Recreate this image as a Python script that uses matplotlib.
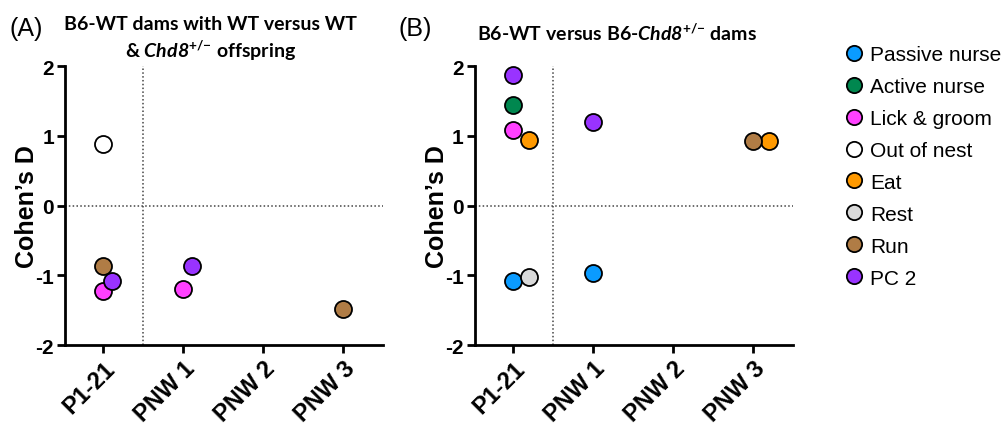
import numpy as np
import matplotlib; matplotlib.use("Agg")
import matplotlib.pyplot as plt
from matplotlib.lines import Line2D

plt.rcParams["font.family"] = "Liberation Sans"
plt.rcParams["mathtext.fontset"] = "custom"
plt.rcParams["mathtext.rm"] = "Lato:bold"
plt.rcParams["mathtext.sf"] = "Lato:italic:bold"
plt.rcParams["mathtext.bf"] = "Lato:bold"

# ---- data -----------------------------------------------------------------
periods = ["P1-21", "PNW 1", "PNW 2", "PNW 3"]
behaviours = ["Passive nurse", "Active nurse", "Lick & groom", "Out of nest",
              "Eat", "Rest", "Run", "PC 2"]
colors = ["#0A9BFF", "#00874F", "#FF40FF", "#FFFFFF",
          "#FF9900", "#D9D9D9", "#B07C45", "#9933FF"]

nan = np.nan
# Panel A: Cohen's D per period (P1-21, PNW1, PNW2, PNW3)
a_passive = [nan, nan, nan, nan]
a_active  = [nan, nan, nan, nan]
a_lick    = [-1.22, -1.20, nan, nan]
a_outnest = [0.88, nan, nan, nan]
a_eat     = [nan, nan, nan, nan]
a_rest    = [nan, nan, nan, nan]
a_run     = [-0.86, nan, nan, -1.48]
a_pc2     = [-1.08, -0.87, nan, nan]

# Panel B
b_passive = [-1.08, -0.96, nan, nan]
b_active  = [1.45, nan, nan, nan]
b_lick    = [1.09, nan, nan, nan]
b_outnest = [nan, nan, nan, nan]
b_eat     = [0.94, nan, nan, 0.93]
b_rest    = [-1.03, nan, nan, nan]
b_run     = [nan, nan, nan, 0.93]
b_pc2     = [1.88, 1.20, nan, nan]

panel_a = [a_passive, a_active, a_lick, a_outnest, a_eat, a_rest, a_run, a_pc2]
panel_b = [b_passive, b_active, b_lick, b_outnest, b_eat, b_rest, b_run, b_pc2]

# horizontal nudges so overlapping points stay visible
nudge_a = [0, 0, 0, 0, 0, 0, 0, 0.11]
nudge_b = [0, 0, 0, 0, 0.2, 0.2, 0, 0]


def draw_panel(ax, data, nudges):
    x = np.arange(len(periods))
    ax.axhline(0, color="#444444", lw=1.1, ls=(0, (1, 1.5)), zorder=1)
    ax.axvline(0.5, color="#444444", lw=1.1, ls=(0, (1, 1.5)), zorder=1)
    for vals, col, dx in zip(data, colors, nudges):
        ax.scatter(x + dx, vals, s=150, c=col, edgecolors="black",
                   linewidths=1.3, zorder=3)
    ax.set_xlim(-0.475, 3.5)
    ax.set_ylim(-2, 2)
    ax.set_yticks([-2, -1, 0, 1, 2])
    ax.set_yticklabels(["-2", "-1", "0", "1", "2"], fontsize=15, fontweight="bold")
    ax.set_xticks(x)
    ax.set_xticklabels(periods, rotation=45, ha="right", rotation_mode="anchor",
                       fontsize=17, fontweight="bold")
    ax.set_ylabel("Cohen\u2019s D", fontsize=18, fontweight="bold", labelpad=-3)
    for s in ["top", "right"]:
        ax.spines[s].set_visible(False)
    for s in ["left", "bottom"]:
        ax.spines[s].set_linewidth(2)
    ax.tick_params(width=2, length=6, pad=2)


fig = plt.figure(figsize=(10.05, 4.31), dpi=100)
ax_a = fig.add_axes([0.0647, 0.197, 0.3164, 0.647])
ax_b = fig.add_axes([0.4726, 0.197, 0.3164, 0.647])
draw_panel(ax_a, panel_a, nudge_a)
draw_panel(ax_b, panel_b, nudge_b)

fig.text(0.009, 0.933, "(A)", fontsize=18, va="center")
fig.text(0.397, 0.933, "(B)", fontsize=18, va="center")
fig.text(0.209, 0.944, "B6-WT dams with WT versus WT", fontsize=14,
         family="Lato", fontweight="bold", ha="center", va="center")
fig.text(0.209, 0.882, r"& $\mathsf{Chd8}^{+/{-}}$ offspring", fontsize=14,
         family="Lato", fontweight="bold", ha="center", va="center")
fig.text(0.614, 0.923, r"B6-WT versus B6-$\mathsf{Chd8}^{+/{-}}$ dams", fontsize=14,
         family="Lato", fontweight="bold", ha="center", va="center")

handles = [Line2D([], [], ls="none", marker="o", markersize=11,
                  markerfacecolor=c, markeredgecolor="black", markeredgewidth=1.3)
           for c in colors]
fig.legend(handles, behaviours, loc="upper left", bbox_to_anchor=(0.839, 0.893),
           frameon=False, fontsize=15, handletextpad=0.3, handlelength=1.0,
           labelspacing=0.62, borderaxespad=0, borderpad=0)

fig.savefig("out.png", dpi=100)
